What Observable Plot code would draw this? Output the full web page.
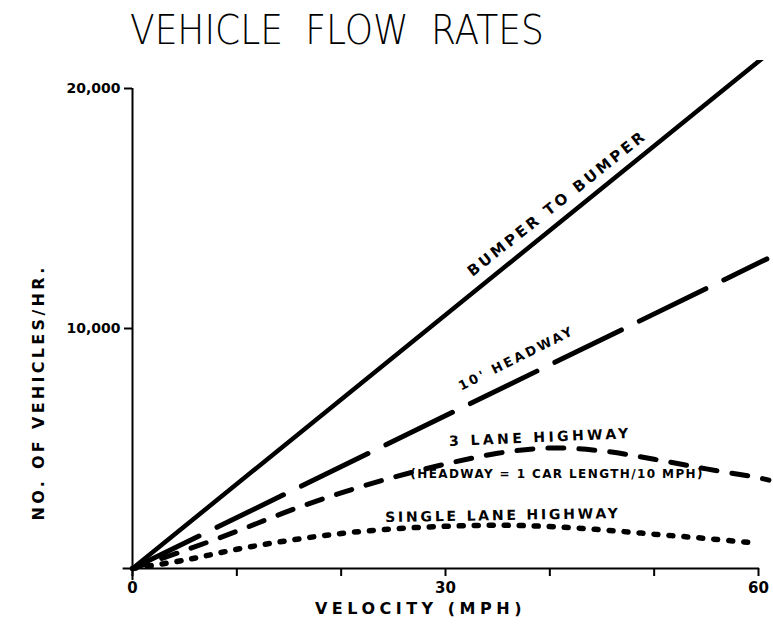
<!DOCTYPE html>
<html>
<head>
<meta charset="utf-8">
<script src="https://cdn.jsdelivr.net/npm/d3@7"></script>
<script src="https://cdn.jsdelivr.net/npm/@observablehq/plot@0.6"></script>
<style>
  html, body { margin: 0; padding: 0; background: #fff; }
  #title {
    height: 60px; box-sizing: border-box; padding-top: 8px;
    color: #000;
  }
  #title span {
    display: inline-block; margin-left: 130px;
    font-family: "DejaVu Sans", sans-serif;
    font-size: 40px; font-weight: 200; letter-spacing: 0px; word-spacing: 12px;
    line-height: 44px; transform: scaleX(0.9); transform-origin: left center;
  }
</style>
</head>
<body>
<div id="title"><span>VEHICLE FLOW RATES</span></div>
<div id="chart"></div>
<script>
// ---- data ----
const bumperMph   = [0, 60.7];
const bumperFlow  = [0, 21375];
const headwayMph  = [0, 60.8];
const headwayFlow = [0, 12900];
const threeLaneMph  = [0, 5, 10, 15, 20, 25, 30, 35, 40, 45, 50, 55, 60, 61];
const threeLaneFlow = [0, 750, 1550, 2400, 3150, 3800, 4350, 4800, 5020, 4900, 4550, 4150, 3780, 3680];
const singleLaneMph  = [0, 5, 10, 15, 20, 25, 30, 35, 40, 45, 50, 55, 60];
const singleLaneFlow = [0, 350, 800, 1170, 1460, 1650, 1760, 1800, 1750, 1610, 1430, 1250, 1050];

const xTicks = [0, 10, 20, 30, 40, 50, 60];
const xTickLabels = ["0", "", "", "30", "", "", "60"];
const yTicks = [10000, 20000];
const xAxisExtent = [-0.9, 60.1];
const yAxisExtent = [-500, 20000];

const labelText = ["BUMPER TO BUMPER", "10' HEADWAY", "3 LANE HIGHWAY", "(HEADWAY = 1 CAR LENGTH/10 MPH)", "SINGLE LANE HIGHWAY"];
const labelMph  = [40.7, 36.8, 39.1, 40.7, 35.5];
const labelFlow = [15208, 8750, 5458, 3917, 2208];
const labelRotate = [-38.5, -26.5, -2.5, 0, -1];
const labelSize = [15, 13, 14, 12, 14];
const labelSpacing = [3, 2.6, 3.4, 1.4, 2.8];

const xTitle = "VELOCITY (MPH)";
const yTitle = "NO. OF VEHICLES/HR.";
const titleSpacing = {"VELOCITY (MPH)": 4.5, "NO. OF VEHICLES/HR.": 3.3};

const toPts = (xs, ys) => xs.map((x, i) => ({x, y: ys[i]}));
const labels = labelText.map((t, i) => ({t, x: labelMph[i], y: labelFlow[i], r: labelRotate[i], s: labelSize[i]}));

const font = "'DejaVu Sans', sans-serif";

const chart = Plot.plot({
  width: 773,
  height: 573,
  marginTop: 28,
  marginBottom: 65,
  marginLeft: 132,
  marginRight: 15,
  x: {domain: [0, 60]},
  y: {domain: [0, 20000]},
  style: {background: "#fff", color: "#000", fontFamily: font},
  marks: [
    Plot.ruleY([0], {x1: xAxisExtent[0], x2: xAxisExtent[1], strokeWidth: 2}),
    Plot.ruleX([0], {y1: yAxisExtent[0], y2: yAxisExtent[1], strokeWidth: 2}),
    Plot.axisX({ticks: xTicks, tickFormat: (d, i) => xTickLabels[i], tickSize: 8, tickPadding: 6,
      strokeWidth: 2, fontSize: 15, fontWeight: "bold", label: null}),
    Plot.axisY({ticks: yTicks, tickFormat: d3.format(","), tickSize: 8, tickPadding: 4,
      strokeWidth: 2, fontSize: 14, fontWeight: "bold", label: null}),
    Plot.line(toPts(bumperMph, bumperFlow), {x: "x", y: "y", stroke: "#000", strokeWidth: 4.5, strokeLinecap: "round"}),
    Plot.line(toPts(headwayMph, headwayFlow), {x: "x", y: "y", stroke: "#000", strokeWidth: 5,
      strokeLinecap: "round", strokeDasharray: "74,20"}),
    Plot.line(toPts(threeLaneMph, threeLaneFlow), {x: "x", y: "y", stroke: "#000", strokeWidth: 5,
      strokeLinecap: "round", strokeDasharray: "16,15", curve: "catmull-rom"}),
    Plot.line(toPts(singleLaneMph, singleLaneFlow), {x: "x", y: "y", stroke: "#000", strokeWidth: 5.5,
      strokeLinecap: "round", strokeDasharray: "4,11", curve: "catmull-rom"}),
    Plot.text(labels, {x: "x", y: "y", text: "t", rotate: "r", fontSize: "s", fontWeight: "bold", fill: "#000"}),
    Plot.text([yTitle], {x: 0, y: 7333, dx: -94, rotate: -90, text: d => d, fontSize: 16,
      fontWeight: "bold", fill: "#000"}),
    Plot.text([xTitle], {x: 27.6, y: 0, dy: 40, text: d => d, fontSize: 16,
      fontWeight: "bold", fill: "#000"})
  ]
});
d3.select(chart).selectAll("text").each(function () {
  const s = this.textContent;
  const i = labelText.indexOf(s);
  if (i >= 0) this.setAttribute("letter-spacing", labelSpacing[i]);
  else if (titleSpacing[s] != null) this.setAttribute("letter-spacing", titleSpacing[s]);
});
document.getElementById("chart").appendChild(chart);
</script>
</body>
</html>
